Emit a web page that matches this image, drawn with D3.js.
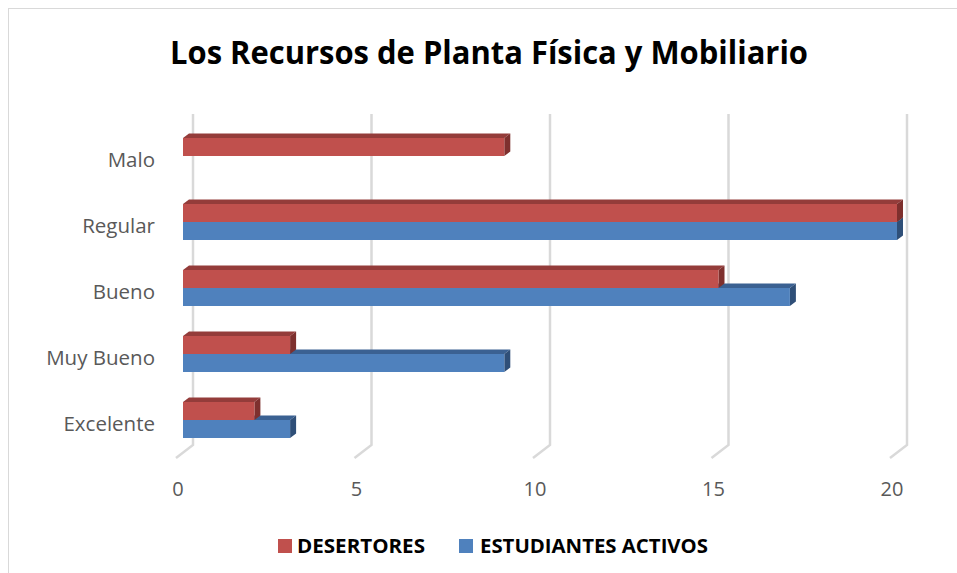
<!DOCTYPE html>
<html>
<head>
<meta charset="utf-8">
<script src="https://cdn.jsdelivr.net/npm/d3@7"></script>
<style>
  html, body { margin: 0; padding: 0; background: #fff; }
  svg { display: block; font-family: "Open Sans", "Liberation Sans", sans-serif; }
</style>
</head>
<body>
<svg id="chart" width="957" height="573"></svg>
<script>
// data
const categories = ["Malo", "Regular", "Bueno", "Muy Bueno", "Excelente"];
const seriesNames = ["DESERTORES", "ESTUDIANTES ACTIVOS"];
const desertores = [9, 20, 15, 3, 2];
const activos = [0, 20, 17, 9, 3];
const xTicks = [0, 5, 10, 15, 20];

const colors = {
  "DESERTORES": { front: "#C0504D", top: "#943C3A", side: "#7E302E" },
  "ESTUDIANTES ACTIVOS": { front: "#4F81BD", top: "#3B6192", side: "#2F4F78" }
};

const svg = d3.select("#chart");

// chart frame (only left/top edges show in the picture)
svg.append("rect")
  .attr("x", 8.5).attr("y", 8.5)
  .attr("width", 960).attr("height", 580)
  .attr("fill", "#fff")
  .attr("stroke", "#D9D9D9");

// title
svg.append("text")
  .attr("x", 489).attr("y", 64)
  .attr("text-anchor", "middle")
  .attr("font-size", 33)
  .attr("font-weight", "bold")
  .attr("fill", "#000")
  .attr("textLength", 638)
  .attr("lengthAdjust", "spacingAndGlyphs")
  .text("Los Recursos de Planta Física y Mobiliario");

const x = d3.scaleLinear().domain([0, 20]).range([183, 897]);
const y = d3.scaleBand().domain(categories).range([123, 453]);
const ySub = d3.scaleBand().domain(seriesNames).range([0, 36]);

// 3D depth
const dx = 6, dy = 4.5;
const backDx = 10, frontDx = -7;
const wallTop = 114, floorBack = 445, floorFront = 458;

// gridlines: back wall vertical + floor diagonal
const grid = svg.append("g")
  .attr("fill", "none")
  .attr("stroke", "#D9D9D9")
  .attr("stroke-width", 2.5);

grid.selectAll("path")
  .data(xTicks)
  .join("path")
  .attr("d", d => {
    const bx = x(d) + backDx;
    return `M${bx},${wallTop}L${bx},${floorBack}L${x(d) + frontDx},${floorFront}`;
  });

// x tick labels
svg.append("g")
  .selectAll("text")
  .data(xTicks)
  .join("text")
  .attr("x", d => x(d) - 5)
  .attr("y", 496)
  .attr("text-anchor", "middle")
  .attr("font-size", 20)
  .attr("fill", "#595959")
  .text(d => d);

// category labels
svg.append("g")
  .selectAll("text")
  .data(categories)
  .join("text")
  .attr("x", 155)
  .attr("y", d => y(d) + y.bandwidth() / 2 + 4)
  .attr("dy", "0.35em")
  .attr("text-anchor", "end")
  .attr("font-size", 20.5)
  .attr("fill", "#595959")
  .text(d => d);

// bars: blue drawn first so red front face covers its top
const rows = [];
categories.forEach((c, i) => {
  rows.push({ cat: c, series: "ESTUDIANTES ACTIVOS", value: activos[i] });
});
categories.forEach((c, i) => {
  rows.push({ cat: c, series: "DESERTORES", value: desertores[i] });
});

const barTop = d => y(d.cat) + y.bandwidth() / 2 - 18 + ySub(d.series);

const bars = svg.append("g")
  .selectAll("g")
  .data(rows.filter(d => d.value > 0))
  .join("g");

bars.append("path")
  .attr("fill", d => colors[d.series].top)
  .attr("d", d => {
    const x0 = x(0), x1 = x(d.value), y0 = barTop(d);
    return `M${x0},${y0}L${x0 + dx},${y0 - dy}L${x1 + dx},${y0 - dy}L${x1},${y0}Z`;
  });

bars.append("path")
  .attr("fill", d => colors[d.series].side)
  .attr("d", d => {
    const x1 = x(d.value), y0 = barTop(d), y1 = y0 + ySub.bandwidth();
    return `M${x1},${y0}L${x1 + dx},${y0 - dy}L${x1 + dx},${y1 - dy}L${x1},${y1}Z`;
  });

bars.append("rect")
  .attr("x", x(0))
  .attr("y", d => barTop(d))
  .attr("width", d => x(d.value) - x(0))
  .attr("height", ySub.bandwidth())
  .attr("fill", d => colors[d.series].front);

// legend
const legendItems = [
  { name: "DESERTORES", sx: 278, tx: 297, w: 128 },
  { name: "ESTUDIANTES ACTIVOS", sx: 459, tx: 480, w: 228 }
];
const legend = svg.append("g");
legend.selectAll("rect")
  .data(legendItems)
  .join("rect")
  .attr("x", d => d.sx).attr("y", 539)
  .attr("width", 14).attr("height", 14)
  .attr("fill", d => colors[d.name].front);
legend.selectAll("text")
  .data(legendItems)
  .join("text")
  .attr("x", d => d.tx).attr("y", 553)
  .attr("font-size", 20)
  .attr("font-weight", "bold")
  .attr("fill", "#000")
  .attr("textLength", d => d.w)
  .attr("lengthAdjust", "spacingAndGlyphs")
  .text(d => d.name);
</script>
</body>
</html>
